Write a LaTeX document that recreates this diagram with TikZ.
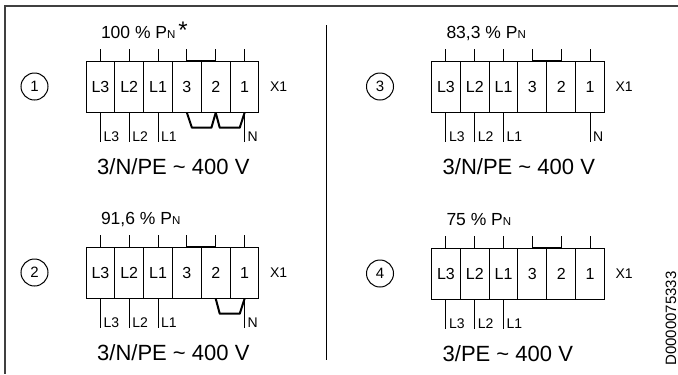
\documentclass[tikz,border=0pt]{standalone}
\usepackage{fontspec}
\setmainfont{Liberation Sans}
\newcommand\fs[1]{\fontsize{#1bp}{#1bp}\selectfont}
\tikzset{
  cell/.style={draw, minimum width=28.83bp, minimum height=51.7bp, inner sep=0pt, outer sep=0pt, font=\fs{16}},
  num/.style={draw, circle, minimum size=27bp, inner sep=0pt, font=\fs{15}},
  txt/.style={inner sep=0pt},
  bridge/.style={line width=2bp, line join=round},
  wirelabel/.style={anchor=base west, inner sep=0pt, font=\fs{14}, xshift=2.6bp}
}
\newcommand\drawpanel[5]{%
\begin{scope}[shift={(#2,#3)}]
  \node[num] (c#1) at (34.5,86.5) {#1};
  \foreach \k/\t in {1/L3,2/L2,3/L1,4/3,5/2,6/1} {
    \node[cell] (b#1-\k) at ({86+28.83*(\k-0.5)},86.85) {\t};
    \draw (b#1-\k.north) -- ++(0,-12) coordinate (t#1-\k);
  }
  \draw[line width=1.4bp] (b#1-4.north) -- (b#1-5.north);
  \node[txt, anchor=base west, font=\fs{17.5}] (p#1) at (100.5,38) {#4};
  \node[txt, anchor=west, font=\fs{14}] (x#1) at (269.5,87) {X1};
  \draw (b#1-1.south) -- ++(0,29) coordinate (w#1-1) node[wirelabel] {L3};
  \draw (b#1-2.south) -- ++(0,29) coordinate (w#1-2) node[wirelabel] {L2};
  \draw (b#1-3.south) -- ++(0,29) coordinate (w#1-3) node[wirelabel] {L1};
  \node[txt, anchor=base west, font=\fs{22}] (v#1) at (96.7,174) {#5};
\end{scope}}
\begin{document}
\begin{tikzpicture}[x=1bp, y=-1bp, line width=1bp]
  \useasboundingbox (0,0) rectangle (678,374);
  \draw[line width=1.5bp, black!75] (678,6) -- (5,6) -- (5,374);
  \draw (326.7,25) -- (326.7,360);

  \drawpanel{1}{0}{0}{100 \% P{\fs{11.5}N}\,{\fs{24}*}}{3/N/PE \textasciitilde{} 400 V}
  \drawpanel{2}{0}{186}{91,6 \% P{\fs{11.5}N}}{3/N/PE \textasciitilde{} 400 V}
  \drawpanel{3}{345.5}{0}{83,3 \% P{\fs{11.5}N}}{3/N/PE \textasciitilde{} 400 V}
  \drawpanel{4}{345.5}{187}{75 \% P{\fs{11.5}N}}{3/PE \textasciitilde{} 400 V}

  % panel 1: bridges 3-2 and 2-1, N
  \draw[bridge] (b1-4.south) -- ++(5,15) -- ++(19.5,0) -- (b1-5.south);
  \draw[bridge] (b1-5.south) -- ++(4,15) -- ++(20,0) -- (b1-6.south);
  \draw (b1-6.south) -- ++(0,29) coordinate (w1-6) node[wirelabel] {N};
  % panel 2: bridge 2-1, N
  \draw[bridge] (b2-5.south) -- ++(4,15) -- ++(20,0) -- (b2-6.south);
  \draw (b2-6.south) -- ++(0,29) coordinate (w2-6) node[wirelabel] {N};
  % panel 3: N
  \draw (b3-6.south) -- ++(0,29) coordinate (w3-6) node[wirelabel] {N};

  \node[txt, rotate=90, font=\fs{15}] (dn) at (671,318.5) {D0000075333};
\end{tikzpicture}
\end{document}
